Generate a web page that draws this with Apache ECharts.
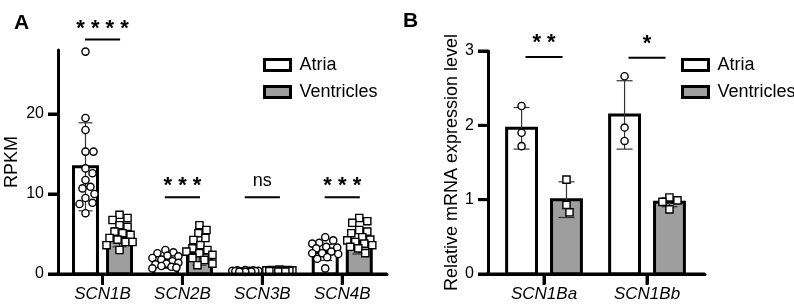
<!DOCTYPE html>
<html><head><meta charset="utf-8">
<script src="https://cdn.jsdelivr.net/npm/echarts@6/dist/echarts.min.js"></script>
<style>html,body{margin:0;padding:0;background:#fff}#c{width:794px;height:307px}</style>
</head><body><div id="c"></div>
<script>
// ---------- Panel A data (RPKM) ----------
const categoriesA = ['SCN1B', 'SCN2B', 'SCN3B', 'SCN4B'];
const atriaMeanA = [13.4, 1.4, 0.36, 2.7];
const atriaSdA = [5.5, 0.7, 0.08, 1.0];
const ventMeanA = [4.6, 2.6, 0.45, 3.8];
const ventSdA = [1.2, 1.5, 0.08, 1.3];
const atriaPointsA = [
  [27.8, 19.5, 18.0, 15.3, 15.3, 13.2, 12.6, 11.75, 10.9, 10.7, 10.0, 9.5, 8.9, 8.75, 7.6],
  [3.0, 2.7, 2.6, 2.3, 2.2, 2.0, 1.8, 1.6, 1.4, 1.3, 1.2, 1.0, 0.9, 0.8, 0.7],
  [0.5, 0.45, 0.45, 0.4, 0.4, 0.4, 0.35, 0.35, 0.35, 0.3, 0.3, 0.3, 0.25, 0.3],
  [4.6, 4.2, 3.9, 3.8, 3.4, 3.3, 3.2, 2.8, 2.6, 2.6, 2.5, 2.1, 1.9, 0.7]
];
const ventPointsA = [
  [7.4, 7.0, 6.75, 6.1, 5.9, 5.3, 5.1, 4.9, 4.5, 4.3, 4.0, 4.0, 3.6, 3.0],
  [6.1, 5.5, 5.1, 4.5, 4.25, 3.6, 3.2, 3.0, 2.8, 2.6, 2.4, 2.0, 1.75, 1.3, 1.1],
  [0.55, 0.5, 0.5, 0.45, 0.45, 0.4, 0.4, 0.4, 0.35, 0.35, 0.3, 0.3],
  [7.0, 6.6, 6.4, 5.5, 5.3, 5.1, 4.6, 4.3, 4.2, 4.0, 3.8, 3.6, 3.4, 3.2, 2.6]
];
const sigLabelA = ['* * * *', '* * *', 'ns', '* * *'];
const sigLevelA = [29.3, 9.6, 9.6, 9.6];
const yTicksA = [0, 10, 20];

// ---------- Panel B data (relative mRNA) ----------
const categoriesB = ['SCN1Ba', 'SCN1Bb'];
const atriaMeanB = [1.96, 2.14];
const atriaSdB = [0.28, 0.46];
const ventMeanB = [1.00, 0.965];
const ventSdB = [0.24, 0.06];
const atriaPointsB = [[2.26, 1.90, 1.72], [2.66, 1.97, 1.79]];
const ventPointsB = [[1.27, 0.93, 0.83], [1.03, 0.99, 0.97, 0.87]];
const sigLabelB = ['* *', '*'];
const sigLevelB = [2.92, 2.91];
const yTicksB = [0, 1, 2, 3];

const FONT = 'Liberation Sans, Arial, Helvetica, sans-serif';
const GREY = '#9e9e9e';
const X_RANGE_A = [-0.557, 3.56];
const X_RANGE_B = [-0.544, 1.563];

function swarm(ys, d, maxOff) {
  const order = ys.map((y, i) => i).sort((a, b) => ys[a] - ys[b]);
  const placed = [];
  const offs = new Array(ys.length).fill(0);
  order.forEach(i => {
    let best = 0, bestD = -1;
    for (let k = 0; k <= 2 * Math.floor(maxOff); k++) {
      const cand = k === 0 ? 0 : (k % 2 ? 1 : -1) * Math.ceil(k / 2);
      let md = Infinity;
      placed.forEach(p => { md = Math.min(md, Math.hypot(p.x - cand, p.y - ys[i])); });
      if (md >= d) { best = cand; bestD = md; break; }
      if (md > bestD) { bestD = md; best = cand; }
    }
    offs[i] = best;
    placed.push({ x: best, y: ys[i] });
  });
  return offs;
}

function groupSeries(idx, name, means, sds, points, side, fill, shape, cfg) {
  return {
    type: 'custom', name: name, xAxisIndex: idx, yAxisIndex: idx, clip: false, z: 3,
    itemStyle: { color: fill, borderColor: '#000', borderWidth: 3 },
    data: means.map((m, i) => [i, m, sds[i]]),
    renderItem: function (params, api) {
      const i = api.value(0), m = api.value(1), sd = api.value(2);
      const xc = i + side * cfg.offset;
      const base = api.coord([xc, 0]);
      const top = api.coord([xc, m]);
      const half = api.size([cfg.width, 0])[0] / 2;
      const ch = [];
      ch.push({ type: 'rect', shape: { x: base[0] - half, y: top[1], width: half * 2, height: base[1] - top[1] },
        style: { fill: fill, stroke: '#000', lineWidth: 3 } });
      const up = api.coord([xc, m + sd]), lo = api.coord([xc, Math.max(m - sd, 0)]);
      const es = { stroke: '#333', lineWidth: 1.2 };
      ch.push({ type: 'line', shape: { x1: top[0], y1: up[1], x2: top[0], y2: lo[1] }, style: es });
      ch.push({ type: 'line', shape: { x1: top[0] - cfg.cap, y1: up[1], x2: top[0] + cfg.cap, y2: up[1] }, style: es });
      ch.push({ type: 'line', shape: { x1: top[0] - cfg.cap, y1: lo[1], x2: top[0] + cfg.cap, y2: lo[1] }, style: es });
      const ys = points[i].map(v => api.coord([xc, v])[1]);
      const offs = swarm(ys, 8, half + 2);
      ys.forEach((y, k) => {
        const x = top[0] + offs[k];
        if (shape === 'circle') {
          ch.push({ type: 'circle', shape: { cx: x, cy: y, r: 3.6 }, style: { fill: '#fff', stroke: '#000', lineWidth: 1.4 } });
        } else {
          ch.push({ type: 'rect', shape: { x: x - 3.6, y: y - 3.6, width: 7.2, height: 7.2 }, style: { fill: '#fff', stroke: '#000', lineWidth: 1.4 } });
        }
      });
      return { type: 'group', children: ch };
    }
  };
}

function sigSeries(idx, labels, levels, cfg) {
  return {
    type: 'custom', xAxisIndex: idx, yAxisIndex: idx, clip: false, silent: true, z: 5,
    data: levels.map((l, i) => [i, l]),
    renderItem: function (params, api) {
      const i = api.value(0), l = api.value(1);
      const p1 = api.coord([i - cfg.half, l]);
      const p2 = api.coord([i + cfg.half, l]);
      const lab = labels[i];
      const isNs = lab === 'ns';
      return { type: 'group', children: [
        { type: 'line', shape: { x1: p1[0], y1: p1[1], x2: p2[0], y2: p1[1] }, style: { stroke: '#000', lineWidth: 2 } },
        { type: 'text', x: (p1[0] + p2[0]) / 2, y: p1[1] - (isNs ? cfg.nsGap : cfg.starGap),
          style: { text: lab, fill: '#000', fontSize: isNs ? 18 : 22, fontWeight: isNs ? 'normal' : 'bold', fontFamily: FONT, align: 'center', verticalAlign: 'middle' } }
      ] };
    }
  };
}

// axis baseline and tick marks, placed through the axes' own scales
function axisDecor(idx, xRange, catCount, yTicks) {
  return {
    type: 'custom', xAxisIndex: idx, yAxisIndex: idx, clip: false, silent: true, z: 6,
    data: [[0, 0]],
    renderItem: function (params, api) {
      const s = { stroke: '#000', lineWidth: 3 };
      const a = api.coord([xRange[0], 0]), b = api.coord([xRange[1], 0]);
      const ch = [{ type: 'line', shape: { x1: a[0] - 1.5, y1: a[1], x2: b[0], y2: b[1] }, style: s }];
      for (let i = 0; i < catCount; i++) {
        const p = api.coord([i, 0]);
        ch.push({ type: 'line', shape: { x1: p[0], y1: p[1], x2: p[0], y2: p[1] + 11 }, style: s });
      }
      yTicks.forEach(v => {
        const p = api.coord([xRange[0], v]);
        ch.push({ type: 'line', shape: { x1: p[0] - 10, y1: p[1], x2: p[0], y2: p[1] }, style: s });
      });
      return { type: 'group', children: ch };
    }
  };
}

function xAxisFor(idx, cats, range) {
  const vals = cats.map((c, i) => i);
  return {
    type: 'value', gridIndex: idx, min: range[0], max: range[1], z: 10,
    splitLine: { show: false },
    axisLine: { show: true, onZero: false, lineStyle: { color: '#000', width: 3 } },
    axisTick: { show: true, length: 10, customValues: vals, lineStyle: { color: '#000', width: 3 } },
    axisLabel: { customValues: vals, formatter: v => cats[Math.round(v)] || '', margin: 12,
      fontSize: 17, fontStyle: 'italic', color: '#000', fontFamily: FONT }
  };
}
function yAxisFor(idx, ticks, max, name, gap) {
  return {
    type: 'value', gridIndex: idx, min: 0, max: max, z: 10,
    name: name, nameLocation: 'middle', nameGap: gap,
    nameTextStyle: { fontSize: 18, color: '#000', fontFamily: FONT },
    splitLine: { show: false },
    axisLine: { show: true, onZero: false, lineStyle: { color: '#000', width: 3 } },
    axisTick: { show: true, length: 10, customValues: ticks, lineStyle: { color: '#000', width: 3 } },
    axisLabel: { customValues: ticks, margin: 14, fontSize: 16, color: '#000', fontFamily: FONT }
  };
}

const cfgA = { offset: 0.213, width: 0.30, cap: 7 };
const cfgB = { offset: 0.218, width: 0.29, cap: 8 };

const legendData = [
  { name: 'Atria', icon: 'rect', itemStyle: { color: '#fff', borderColor: '#000', borderWidth: 3 } },
  { name: 'Ventricles', icon: 'rect', itemStyle: { color: GREY, borderColor: '#000', borderWidth: 3 } }
];
function legendAt(left) {
  return { left: left, top: 51, orient: 'vertical', itemWidth: 26, itemHeight: 11, itemGap: 9,
    selectedMode: false, data: legendData,
    textStyle: { fontSize: 18, color: '#000', fontFamily: FONT, padding: [0, 0, 0, 4] } };
}

const chart = echarts.init(document.getElementById('c'));
chart.setOption({
  animation: false,
  backgroundColor: '#fff',
  title: [
    { text: 'A', left: 9, top: 8, textStyle: { fontSize: 21, fontWeight: 'bold', color: '#000', fontFamily: FONT } },
    { text: 'B', left: 398, top: 6, textStyle: { fontSize: 21, fontWeight: 'bold', color: '#000', fontFamily: FONT } }
  ],
  legend: [legendAt(258), legendAt(676)],
  grid: [
    { left: 58, top: 50, width: 329, height: 224 },
    { left: 488, top: 51, width: 217, height: 223 }
  ],
  xAxis: [xAxisFor(0, categoriesA, X_RANGE_A), xAxisFor(1, categoriesB, X_RANGE_B)],
  yAxis: [yAxisFor(0, yTicksA, 28, 'RPKM', 37), yAxisFor(1, yTicksB, 3, 'Relative mRNA expression level', 24)],
  series: [
    groupSeries(0, 'Atria', atriaMeanA, atriaSdA, atriaPointsA, -1, '#fff', 'circle', cfgA),
    groupSeries(0, 'Ventricles', ventMeanA, ventSdA, ventPointsA, 1, GREY, 'square', cfgA),
    sigSeries(0, sigLabelA, sigLevelA, { half: 0.22, starGap: 11, nsGap: 16 }),
    axisDecor(0, X_RANGE_A, categoriesA.length, yTicksA),
    groupSeries(1, 'Atria', atriaMeanB, atriaSdB, atriaPointsB, -1, '#fff', 'circle', cfgB),
    groupSeries(1, 'Ventricles', ventMeanB, ventSdB, ventPointsB, 1, GREY, 'square', cfgB),
    sigSeries(1, sigLabelB, sigLevelB, { half: 0.18, starGap: 14, nsGap: 16 }),
    axisDecor(1, X_RANGE_B, categoriesB.length, yTicksB)
  ]
});
</script></body></html>
